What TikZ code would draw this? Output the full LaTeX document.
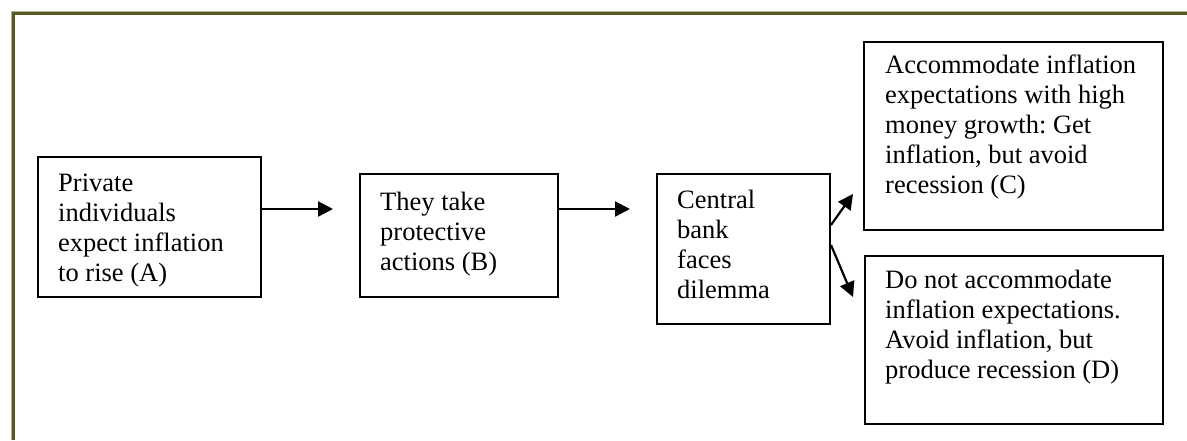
\documentclass[tikz,border=0pt]{standalone}
\usepackage{fontspec}
\setmainfont{Liberation Serif}
\usetikzlibrary{arrows.meta}
\definecolor{framecol}{RGB}{88,88,32}
\tikzset{
  box/.style={draw=black, line width=2pt, inner sep=0pt, anchor=north west, fill=none},
  txt/.style={inner sep=0pt, anchor=base west, font=\fontsize{26.5}{30}\selectfont\frenchspacing},
  arr/.style={line width=2.2pt, -{Triangle[length=15pt,width=15pt]}},
}
\begin{document}
\begin{tikzpicture}[x=1pt,y=-1pt]
\useasboundingbox (0,0) rectangle (1187,440);
\fill[white] (0,0) rectangle (1187,440);
% outer frame (only top and left edges visible)
\draw[framecol!45, line width=1pt] (11.5,440) -- (11.5,11.5) -- (1187,11.5);
\draw[framecol, line width=2.2pt] (13.5,440) -- (13.5,13.5) -- (1187,13.5);
% boxes
\node[box, minimum width=223pt, minimum height=140pt] (A) at (37,156) {};
\node[box, minimum width=198pt, minimum height=123pt] (B) at (359,173) {};
\node[box, minimum width=173pt, minimum height=150pt] (C) at (656,173) {};
\node[box, minimum width=299pt, minimum height=188pt] (UC) at (863,41) {};
\node[box, minimum width=298pt, minimum height=168pt] (LD) at (864,255) {};
% texts
\node[txt] (tA) at (58,191) {\begin{tabular}[t]{@{}l@{}}Private\\individuals\\expect inflation\\to rise (A)\end{tabular}};
\node[txt] (tB) at (380,210) {\begin{tabular}[t]{@{}l@{}}They take\\protective\\actions (B)\end{tabular}};
\node[txt] (tC) at (677,208) {\begin{tabular}[t]{@{}l@{}}Central\\bank\\faces\\dilemma\end{tabular}};
\node[txt] (tUC) at (885,73) {\begin{tabular}[t]{@{}l@{}}Accommodate inflation\\expectations with high\\money growth: Get\\inflation, but avoid\\recession (C)\end{tabular}};
\node[txt] (tLD) at (885,288) {\begin{tabular}[t]{@{}l@{}}Do not accommodate\\inflation expectations.\\Avoid inflation, but\\produce recession (D)\end{tabular}};
% connectors
\draw[arr] ([yshift=-53pt]A.north east) -- ([xshift=-26pt,yshift=-36pt]B.north west);
\draw[arr] ([yshift=-36pt]B.north east) -- ([xshift=-26pt,yshift=-36pt]C.north west);
\draw[arr] ([yshift=-52pt]C.north east) -- ([xshift=-10pt,yshift=37pt]UC.south west);
\draw[arr] ([yshift=-72pt]C.north east) -- ([xshift=-11pt,yshift=-42pt]LD.north west);
\end{tikzpicture}
\end{document}
